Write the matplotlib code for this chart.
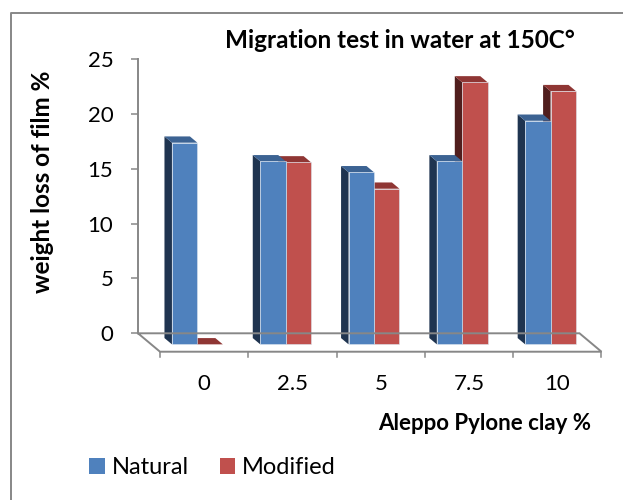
import matplotlib
matplotlib.use('Agg')
import matplotlib.pyplot as plt
from matplotlib.patches import Polygon, Patch
from matplotlib.lines import Line2D

plt.rcParams['font.family'] = ['Lato', 'DejaVu Sans']

# data
categories = ['0', '2.5', '5', '7.5', '10']
natural = [18.4, 16.7, 15.7, 16.7, 20.4]
modified = [0.0, 16.6, 14.2, 23.9, 23.1]
yticks = [0, 5, 10, 15, 20, 25]

# colours: front, side, top
blue = ('#4F81BD', '#1F3450', '#3C6393')
red = ('#C0504D', '#501E1D', '#8F3634')
gray = '#878787'

# fake 3D projection, in axis units (depth vector back -> front)
DX, DY = 0.249, -1.68
f_back, f_front = 0.26, 0.60
bar_w = 0.288
bar_off = 0.235

W, H = 623, 500
fig = plt.figure(figsize=(W / 100, H / 100), dpi=100)
ax = fig.add_axes([138 / W, 1 - 333.3 / H, 441.5 / W, 274 / H])
ax.set_xlim(0, 5)
ax.set_ylim(0, 25)
for s in ['top', 'right', 'bottom']:
    ax.spines[s].set_visible(False)
ax.spines['left'].set_color(gray)
ax.spines['left'].set_linewidth(1.4)
ax.set_xticks([])
ax.set_yticks(yticks)
ax.tick_params(axis='y', direction='out', length=4.8, width=1.1, color=gray,
               pad=13, labelsize=16)
ax.patch.set_visible(False)


def bar3d(x0, h, cols):
    fc, sc, tc = cols
    bx, by = f_back * DX, f_back * DY
    fx, fy = f_front * DX, f_front * DY
    side = [(x0 + bx, by), (x0 + fx, fy), (x0 + fx, h + fy), (x0 + bx, h + by)]
    top = [(x0 + bx, h + by), (x0 + bar_w + bx, h + by),
           (x0 + bar_w + fx, h + fy), (x0 + fx, h + fy)]
    front = [(x0 + fx, fy), (x0 + bar_w + fx, fy),
             (x0 + bar_w + fx, h + fy), (x0 + fx, h + fy)]
    ax.add_patch(Polygon(side, closed=True, fc=sc, ec='none', clip_on=False))
    ax.add_patch(Polygon(top, closed=True, fc=tc, ec='none', clip_on=False))
    if h > 0:
        ax.add_patch(Polygon(front, closed=True, fc=fc, ec='#dde6f0', lw=0.4,
                             clip_on=False))


# floor
ax.plot([0, 5, 5 + DX, DX, 0], [0, 0, DY, DY, 0], color=gray, lw=1.4,
        clip_on=False, solid_joinstyle='miter')
for i in range(len(categories) + 1):
    ax.plot([i + DX, i + DX], [DY, DY - 0.52], color=gray, lw=1.1, clip_on=False)

# bars: modified first (right one), natural in front of its side
for i in range(len(categories)):
    bar3d(i + bar_off + bar_w, modified[i], red)
    bar3d(i + bar_off, natural[i], blue)

for i, c in enumerate(categories):
    ax.text(i + DX + 0.5, -4.6, c, ha='center', va='center', fontsize=16)

fig.text(400 / W, 1 - 40 / H, 'Migration test in water at 150C°', ha='center',
         va='center', fontsize=17.5, fontweight='bold')
fig.text(43 / W, 1 - 182 / H, 'weight loss of film %', rotation=90, ha='center',
         va='center', fontsize=17.5, fontweight='bold')
fig.text(485 / W, 1 - 424 / H, 'Aleppo Pylone clay %', ha='center', va='center',
         fontsize=16, fontweight='bold')

handles = [Patch(fc=blue[0], ec='none', label='Natural'),
           Patch(fc=red[0], ec='none', label='Modified')]
fig.legend(handles=handles, loc='center left', bbox_to_anchor=(68 / W, 1 - 468 / H),
           ncol=2, frameon=False, fontsize=17, handlelength=0.65, handleheight=0.65,
           handletextpad=0.3, columnspacing=1.3)

# chart outline
fig.add_artist(Line2D([10.7 / W, 10.7 / W, 1], [0, 1 - 13.3 / H, 1 - 13.3 / H],
                      color=gray, lw=1.4))

fig.savefig('out.png', dpi=100)
